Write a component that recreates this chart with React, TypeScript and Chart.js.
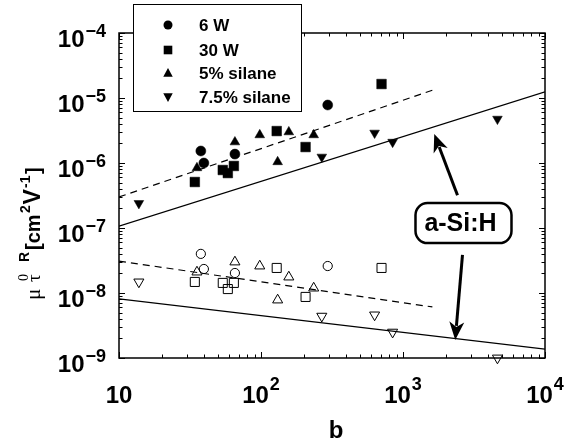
import React, { useEffect, useRef } from 'react';
import { Chart, registerables } from 'chart.js';

Chart.register(...registerables);

const SANS = '"Liberation Sans", Arial, Helvetica, sans-serif';
const SERIF = '"Liberation Serif", "Times New Roman", serif';

// ---- data (b vs mu0 tauR) ----
const b6W = [37.7, 39.6, 65.5, 295];
const hi6W = [1.53e-6, 1.0e-6, 1.37e-6, 7.8e-6];
const lo6W = [4.0e-8, 2.34e-8, 2.03e-8, 2.6e-8];

const b30W = [34.2, 53.8, 58.4, 64.4, 129, 206, 706];
const hi30W = [5.1e-7, 7.8e-7, 7.0e-7, 9.0e-7, 3.1e-6, 1.76e-6, 1.64e-5];
const lo30W = [1.48e-8, 1.43e-8, 1.15e-8, 1.43e-8, 2.43e-8, 8.7e-9, 2.43e-8];

const b5 = [35.4, 65.5, 98, 131, 157, 235];
const hi5 = [8.4e-7, 2.1e-6, 2.7e-6, 1.04e-6, 3.0e-6, 2.7e-6];
const lo5 = [2.1e-8, 3.0e-8, 2.6e-8, 7.8e-9, 1.76e-8, 1.19e-8];

const b75 = [13.8, 268, 631, 845, 4625];
const hi75 = [2.4e-7, 1.24e-6, 2.9e-6, 2.1e-6, 4.75e-6];
const lo75 = [1.48e-8, 4.4e-9, 4.6e-9, 2.5e-9, 1.0e-9];

// fit lines
const solidHiX = [10, 10000];
const solidHiY = [1.07e-7, 1.24e-5];
const dashHiX = [10, 1718];
const dashHiY = [3.0e-7, 1.38e-5];
const dashLoX = [10, 1610];
const dashLoY = [3.1e-8, 6.1e-9];
const solidLoX = [10, 10000];
const solidLoY = [8.1e-9, 1.37e-9];

// ticks
const xTickValues = [10, 100, 1000, 10000];
const xTickExp = ['', '2', '3', '4'];
const yTickValues = [1e-4, 1e-5, 1e-6, 1e-7, 1e-8, 1e-9];
const yTickExp = ['\u22124', '\u22125', '\u22126', '\u22127', '\u22128', '\u22129'];

const legendLabels = ['6 W', '30 W', '5% silane', '7.5% silane'];
const legendShapes = ['circle', 'square', 'up', 'down'];

// annotation (data coordinates)
const annotText = 'a-Si:H';
const annotB = 2667;
const annotV = 1.19e-7;
const arrowUpFrom = [2420, 3.2e-7];
const arrowUpTo = [1660, 2.8e-6];
const arrowDownFrom = [2624, 3.85e-8];
const arrowDownTo = [2333, 1.9e-9];

const pts = (xs: number[], ys: number[]) => xs.map((x, i) => ({ x, y: ys[i] }));

function drawShape(ctx: CanvasRenderingContext2D, shape: string, x: number, y: number, s: number) {
  ctx.beginPath();
  if (shape === 'circle') {
    ctx.arc(x, y, s, 0, Math.PI * 2);
  } else if (shape === 'square') {
    ctx.rect(x - s, y - s, 2 * s, 2 * s);
  } else if (shape === 'up') {
    ctx.moveTo(x, y - s);
    ctx.lineTo(x + s * 0.95, y + s * 0.75);
    ctx.lineTo(x - s * 0.95, y + s * 0.75);
    ctx.closePath();
  } else {
    ctx.moveTo(x, y + s);
    ctx.lineTo(x + s * 0.95, y - s * 0.75);
    ctx.lineTo(x - s * 0.95, y - s * 0.75);
    ctx.closePath();
  }
  ctx.fill();
}

function drawArrow(ctx: CanvasRenderingContext2D, x0: number, y0: number, x1: number, y1: number) {
  const ang = Math.atan2(y1 - y0, x1 - x0);
  const len = 18;
  const hw = 7.5;
  const bx = x1 - Math.cos(ang) * (len - 4);
  const by = y1 - Math.sin(ang) * (len - 4);
  ctx.beginPath();
  ctx.moveTo(x0, y0);
  ctx.lineTo(bx, by);
  ctx.lineWidth = 3;
  ctx.strokeStyle = '#000';
  ctx.stroke();
  const px = -Math.sin(ang);
  const py = Math.cos(ang);
  const cx = x1 - Math.cos(ang) * len;
  const cy = y1 - Math.sin(ang) * len;
  ctx.beginPath();
  ctx.moveTo(x1, y1);
  ctx.lineTo(cx + px * hw, cy + py * hw);
  ctx.lineTo(x1 - Math.cos(ang) * (len - 5), y1 - Math.sin(ang) * (len - 5));
  ctx.lineTo(cx - px * hw, cy - py * hw);
  ctx.closePath();
  ctx.fillStyle = '#000';
  ctx.fill();
}

const framePlugin = {
  id: 'framePlugin',
  beforeDatasetsDraw(chart: any) {
    const { ctx, chartArea: a, scales } = chart;
    const xs = scales.x;
    const ys = scales.y;
    ctx.save();
    ctx.strokeStyle = '#000';
    ctx.lineWidth = 1;
    ctx.beginPath();
    for (let d = 10; d <= 10000; d *= 10) {
      for (let m = 1; m <= 9; m++) {
        const v = d * m;
        if (v > 10000) break;
        const px = Math.round(xs.getPixelForValue(v)) + 0.5;
        const L = m === 1 ? 6 : 3.5;
        ctx.moveTo(px, a.bottom);
        ctx.lineTo(px, a.bottom - L);
        ctx.moveTo(px, a.top);
        ctx.lineTo(px, a.top + L);
      }
    }
    for (let e = -9; e <= -4; e++) {
      for (let m = 1; m <= 9; m++) {
        const v = m * Math.pow(10, e);
        if (v > 1.0001e-4) break;
        const py = Math.round(ys.getPixelForValue(v)) + 0.5;
        const L = m === 1 ? 6 : 3.5;
        ctx.moveTo(a.left, py);
        ctx.lineTo(a.left + L, py);
        ctx.moveTo(a.right, py);
        ctx.lineTo(a.right - L, py);
      }
    }
    ctx.stroke();
    ctx.lineWidth = 1.5;
    ctx.strokeRect(a.left, a.top, a.right - a.left, a.bottom - a.top);
    ctx.restore();
  },
  afterDraw(chart: any) {
    const { ctx, scales } = chart;
    const xs = scales.x;
    const ys = scales.y;
    ctx.save();
    ctx.fillStyle = '#000';
    ctx.textBaseline = 'alphabetic';
    ctx.textAlign = 'left';
    const baseFont = `bold 24px ${SANS}`;
    const expFont = `bold 18px ${SANS}`;
    // x tick labels
    xTickValues.forEach((v, i) => {
      const px = xs.getPixelForValue(v);
      ctx.font = baseFont;
      const bw = ctx.measureText('10').width;
      ctx.font = expFont;
      const ew = xTickExp[i] ? ctx.measureText(xTickExp[i]).width + 1 : 0;
      const start = px - (bw + ew) / 2;
      ctx.font = baseFont;
      ctx.fillText('10', start, 403);
      if (xTickExp[i]) {
        ctx.font = expFont;
        ctx.fillText(xTickExp[i], start + bw + 1, 390);
      }
    });
    // y tick labels
    yTickValues.forEach((v, i) => {
      const py = ys.getPixelForValue(v);
      ctx.font = baseFont;
      const bw = ctx.measureText('10').width;
      ctx.font = expFont;
      const ew = ctx.measureText(yTickExp[i]).width + 1;
      const start = 106 - (bw + ew);
      ctx.font = baseFont;
      ctx.fillText('10', start, py + 13.5);
      ctx.font = expFont;
      ctx.fillText(yTickExp[i], start + bw + 1, py + 4);
    });
    // x title
    ctx.font = `bold 24px ${SANS}`;
    ctx.textAlign = 'center';
    ctx.fillText('b', 336, 438);
    ctx.textAlign = 'left';
    // y title (rotated)
    ctx.save();
    ctx.translate(40, 300);
    ctx.rotate(-Math.PI / 2);
    ctx.font = `21px ${SERIF}`;
    ctx.fillText('\u03bc', 0, 0);
    ctx.font = `14px ${SERIF}`;
    ctx.fillText('0', 19, -12);
    ctx.font = `19px ${SERIF}`;
    ctx.fillText('\u03c4', 18, 0);
    ctx.font = `bold 14px ${SANS}`;
    ctx.fillText('R', 38, -11);
    ctx.font = `bold 20px ${SANS}`;
    ctx.fillText('[cm', 50, 0);
    ctx.font = `bold 14px ${SANS}`;
    ctx.fillText('2', 87, -10);
    ctx.font = `bold 23px ${SANS}`;
    ctx.fillText('V', 95.5, 0);
    ctx.font = `bold 14px ${SANS}`;
    ctx.fillText('-1', 112, -10);
    ctx.font = `bold 20px ${SANS}`;
    ctx.fillText(']', 126, 0);
    ctx.restore();

    // legend
    ctx.fillStyle = '#fff';
    ctx.fillRect(133.5, 4.5, 168, 107);
    ctx.strokeStyle = '#000';
    ctx.lineWidth = 1;
    ctx.strokeRect(133.5, 4.5, 168, 107);
    const rows = [25, 50, 73, 97];
    ctx.font = `bold 17px ${SANS}`;
    ctx.textBaseline = 'middle';
    legendLabels.forEach((lab, i) => {
      ctx.fillStyle = '#000';
      const s = legendShapes[i] === 'circle' ? 4.5 : legendShapes[i] === 'square' ? 4.3 : 5;
      drawShape(ctx, legendShapes[i], 168, rows[i], s);
      ctx.fillText(lab, 199, rows[i] + 1);
    });

    // annotation
    const ax = xs.getPixelForValue(annotB);
    const ay = ys.getPixelForValue(annotV);
    drawArrow(ctx, xs.getPixelForValue(arrowUpFrom[0]), ys.getPixelForValue(arrowUpFrom[1]),
      xs.getPixelForValue(arrowUpTo[0]), ys.getPixelForValue(arrowUpTo[1]));
    drawArrow(ctx, xs.getPixelForValue(arrowDownFrom[0]), ys.getPixelForValue(arrowDownFrom[1]),
      xs.getPixelForValue(arrowDownTo[0]), ys.getPixelForValue(arrowDownTo[1]));
    const bw = 96, bh = 40, r = 12;
    const bx = ax - bw / 2, by = ay - bh / 2;
    ctx.beginPath();
    ctx.moveTo(bx + r, by);
    ctx.arcTo(bx + bw, by, bx + bw, by + bh, r);
    ctx.arcTo(bx + bw, by + bh, bx, by + bh, r);
    ctx.arcTo(bx, by + bh, bx, by, r);
    ctx.arcTo(bx, by, bx + bw, by, r);
    ctx.closePath();
    ctx.fillStyle = '#fff';
    ctx.fill();
    ctx.lineWidth = 2.5;
    ctx.strokeStyle = '#000';
    ctx.stroke();
    ctx.fillStyle = '#000';
    ctx.font = `bold 25px ${SANS}`;
    ctx.textAlign = 'center';
    ctx.textBaseline = 'alphabetic';
    ctx.fillText(annotText, ax - 3, ay + 8);
    ctx.restore();
  },
};

function App() {
  const ref = useRef<HTMLCanvasElement>(null);
  useEffect(() => {
    const canvas = ref.current;
    if (!canvas) return;
    const filled = (label: string, xs: number[], ys: number[], style: string, radius: number, rot = 0) => ({
      label,
      data: pts(xs, ys),
      showLine: false,
      pointStyle: style,
      pointRotation: rot,
      pointRadius: radius,
      pointBackgroundColor: '#000',
      pointBorderColor: '#000',
      pointBorderWidth: 0.5,
      clip: false,
    });
    const open = (label: string, xs: number[], ys: number[], style: string, radius: number, rot = 0) => ({
      label,
      data: pts(xs, ys),
      showLine: false,
      pointStyle: style,
      pointRotation: rot,
      pointRadius: radius,
      pointBackgroundColor: 'rgba(255,255,255,0)',
      pointBorderColor: '#000',
      pointBorderWidth: 1,
      clip: false,
    });
    const line = (label: string, xs: number[], ys: number[], dash: number[]) => ({
      label,
      data: pts(xs, ys),
      showLine: true,
      borderColor: '#000',
      borderWidth: 1.2,
      borderDash: dash,
      pointRadius: 0,
      fill: false,
    });
    const chart = new Chart(canvas, {
      type: 'scatter',
      data: {
        datasets: [
          line('fit high', solidHiX, solidHiY, []),
          line('dash high', dashHiX, dashHiY, [7, 5]),
          line('dash low', dashLoX, dashLoY, [7, 5]),
          line('fit low', solidLoX, solidLoY, []),
          filled('6 W', b6W, hi6W, 'circle', 5),
          filled('30 W', b30W, hi30W, 'rect', 6.8),
          filled('5% silane', b5, hi5, 'triangle', 5.6),
          filled('7.5% silane', b75, hi75, 'triangle', 5.6, 180),
          open('6 W open', b6W, lo6W, 'circle', 4.6),
          open('30 W open', b30W, lo30W, 'rect', 6.4),
          open('5% silane open', b5, lo5, 'triangle', 5.8),
          open('7.5% silane open', b75, lo75, 'triangle', 5.8, 180),
        ] as any,
      },
      options: {
        responsive: false,
        animation: false,
        devicePixelRatio: 1,
        layout: { padding: { left: 119, top: 33, right: 33, bottom: 86 } },
        plugins: { legend: { display: false }, tooltip: { enabled: false } },
        scales: {
          x: {
            type: 'logarithmic',
            min: 10,
            max: 10000,
            ticks: { display: false },
            grid: { display: false, drawTicks: false },
            border: { display: false },
          },
          y: {
            type: 'logarithmic',
            min: 1e-9,
            max: 1e-4,
            ticks: { display: false },
            grid: { display: false, drawTicks: false },
            border: { display: false },
          },
        },
      } as any,
      plugins: [framePlugin],
    });
    return () => chart.destroy();
  }, []);
  return (
    <div style={{ position: 'fixed', left: 0, top: 0, width: 578, height: 444, background: '#fff' }}>
      <canvas ref={ref} width={578} height={444} style={{ display: 'block', width: 578, height: 444 }} />
    </div>
  );
}

export default App;
